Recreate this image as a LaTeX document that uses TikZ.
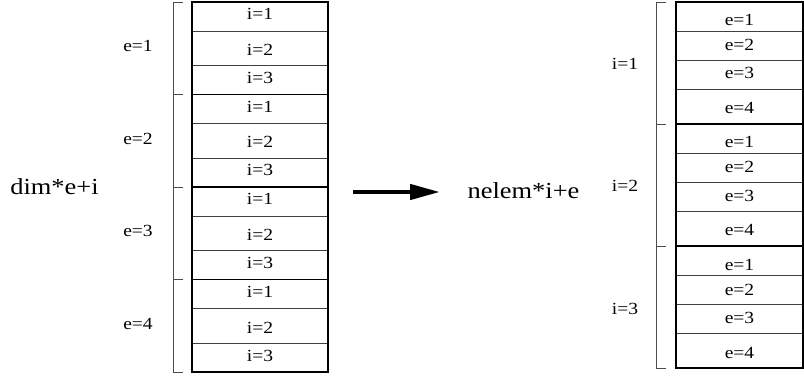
\documentclass[tikz,border=0pt]{standalone}
\usepackage{fontspec}
\setmainfont{Liberation Serif}[FakeStretch=1.15]
\usetikzlibrary{arrows.meta}
\begin{document}
\begin{tikzpicture}[x=1pt,y=-1pt,
  cellbox/.style={draw=black!75, line width=0.8pt, inner sep=0pt,
    minimum width=#1, font=\fontsize{17}{20}\selectfont},
  groupbox/.style={draw=black, line width=1.4pt, inner sep=0pt, outer sep=0pt},
  bracket/.style={draw=black!70, line width=0.9pt},
  sidelabel/.style={inner sep=0pt, anchor=base, font=\fontsize{17}{20}\selectfont},
  biglabel/.style={inner sep=0pt, anchor=base, font=\fontsize{23}{27}\selectfont},
  bigarrow/.style={line width=4.5pt, -{Triangle[length=30pt,width=15pt]}}
]
\useasboundingbox (0,0) rectangle (804,377);

% element-major layout: four element blocks of three components each
\foreach \g in {1,...,4}{
  \pgfmathsetmacro\gtop{2+92.5*(\g-1)}
  \foreach \rr/\ofs/\hh/\dep in {1/0/29/11, 2/29/34.5/10, 3/63.5/29/11}{
    \pgfmathsetmacro\cy{\gtop+\ofs+\hh/2}
    \pgfmathsetmacro\tht{\hh-\dep}
    \node[cellbox=136pt, minimum height=\hh pt, text depth=\dep pt,
          text height=\tht pt] (L\g-\rr) at (260,\cy) {i=\rr};
  }
  \pgfmathsetmacro\gmid{\gtop+46.25}
  \node[groupbox, minimum width=136pt, minimum height=92.5pt] (L\g) at (260,\gmid) {};
  \draw[bracket] ([xshift=-9pt]L\g.north west) -- ([xshift=-19pt]L\g.north west)
    -- ([xshift=-19pt]L\g.south west) -- ([xshift=-9pt]L\g.south west);
  \pgfmathsetmacro\ly{\gmid+3.5}
  \node[sidelabel] (Le\g) at (138,\ly) {e=\g};
}

% component-major layout: three component blocks of four elements each
\foreach \g in {1,2,3}{
  \pgfmathsetmacro\gtop{2+122*(\g-1)}
  \foreach \rr/\ofs/\hh/\dep in {1/0/29/5, 2/29/29/9, 3/58/29/10, 4/87/35/10}{
    \pgfmathsetmacro\cy{\gtop+\ofs+\hh/2}
    \pgfmathsetmacro\tht{\hh-\dep}
    \node[cellbox=127pt, minimum height=\hh pt, text depth=\dep pt,
          text height=\tht pt] (R\g-\rr) at (739.5,\cy) {e=\rr};
  }
  \pgfmathsetmacro\gmid{\gtop+61}
  \node[groupbox, minimum width=127pt, minimum height=122pt] (R\g) at (739.5,\gmid) {};
  \draw[bracket] ([xshift=-10pt]R\g.north west) -- ([xshift=-20pt]R\g.north west)
    -- ([xshift=-20pt]R\g.south west) -- ([xshift=-10pt]R\g.south west);
  \pgfmathsetmacro\ly{\gmid+7}
  \node[sidelabel] (Ri\g) at (625,\ly) {i=\g};
}

% index formulas and the transformation arrow
\node[biglabel] (src) at (54.5,195) {dim*e+i};
\node[biglabel] (dst) at (523.5,199) {nelem*i+e};
\coordinate (tail) at (353,192);
\coordinate (head) at (440,192);
\draw[bigarrow] (tail) -- (head);
\end{tikzpicture}
\end{document}
